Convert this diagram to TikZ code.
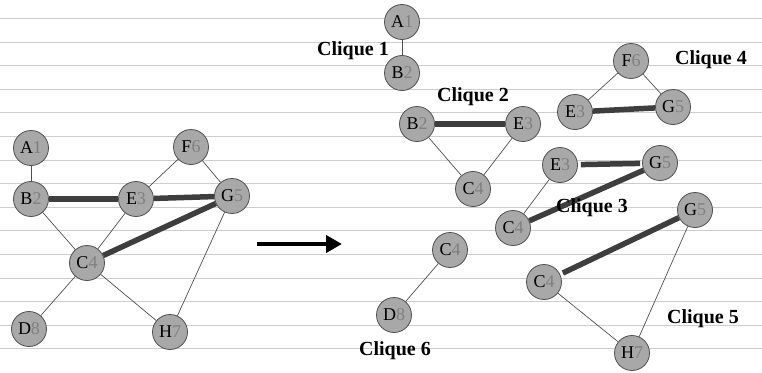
\documentclass[tikz,border=0pt]{standalone}
\usepackage{fontspec}
\setmainfont{Liberation Serif}
\usetikzlibrary{arrows.meta}
\definecolor{nodegray}{RGB}{168,168,168}
\definecolor{rimgray}{RGB}{80,80,80}
\definecolor{edgegray}{RGB}{62,62,62}
\definecolor{ruled}{RGB}{205,205,205}
\newcommand{\vx}[2]{#1{\color{gray}#2}}
\tikzset{
  vert/.style={circle,draw=rimgray,fill=nodegray,line width=0.8pt,minimum size=35pt,inner sep=0pt,font=\fontsize{18}{18}\selectfont},
  link/.style={rimgray,line width=0.7pt},
  heavy/.style={edgegray,line width=5.5pt},
  tag/.style={font=\bfseries\fontsize{20}{20}\selectfont}
}
\begin{document}
\begin{tikzpicture}[x=1pt,y=-1pt]
        \useasboundingbox(0,0)rectangle(762,372);
        \fill[white](0,0)rectangle(762,372);
        \foreach \y in {0,...,14} \draw[ruled,line width=0.8pt](0,18.4+23.6*\y)--(762,18.4+23.6*\y);

        % whole graph
        \node[vert](a)at(31,148){\vx{A}{1}};
        \node[vert](b)at(31,199){\vx{B}{2}};
        \node[vert](e)at(136,199){\vx{E}{3}};
        \node[vert](f)at(191,147){\vx{F}{6}};
        \node[vert](g)at(232,196){\vx{G}{5}};
        \node[vert](c)at(87,263){\vx{C}{4}};
        \node[vert](d)at(29,329){\vx{D}{8}};
        \node[vert](h)at(170,332){\vx{H}{7}};
        \draw[link](a)--(b);
        \draw[link](f)--(e);
        \draw[link](f)--(g);
        \draw[link](b)--(c);
        \draw[link](e)--(c);
        \draw[link](c)--(d);
        \draw[link](c)--(h);
        \draw[link](g)--(h);
        \draw[heavy](b)--(e);
        \draw[heavy](e)--(g);
        \draw[heavy](c)--(g);

        \coordinate(s)at(257,244);
        \coordinate(t)at(342,244);
        \draw[-{Triangle[length=16pt,width=17pt]},line width=4pt](s)--(t);

        % clique 1
        \node[vert](c1a)at(402,22){\vx{A}{1}};
        \node[vert](c1b)at(402,73){\vx{B}{2}};
        \draw[link](c1a)--(c1b);
        \node[tag](l1)at(353,51){Clique 1};

        % clique 2
        \node[vert](c2b)at(417,124){\vx{B}{2}};
        \node[vert](c2e)at(523,124){\vx{E}{3}};
        \node[vert](c2c)at(473,189){\vx{C}{4}};
        \draw[link](c2b)--(c2c);
        \draw[link](c2e)--(c2c);
        \draw[heavy](c2b)--(c2e);
        \node[tag](l2)at(473,97){Clique 2};

        % clique 3
        \node[vert](c3e)at(560,165){\vx{E}{3}};
        \node[vert](c3g)at(660,163){\vx{G}{5}};
        \node[vert](c3c)at(513,228){\vx{C}{4}};
        \draw[link](c3c)--(c3e);
        \draw[heavy,shorten <=3pt,shorten >=2pt](c3e)--(c3g);
        \draw[heavy](c3c)--(c3g);
        \node[tag](l3)at(592,208){Clique 3};

        % clique 4
        \node[vert](c4f)at(631,61){\vx{F}{6}};
        \node[vert](c4e)at(575,112){\vx{E}{3}};
        \node[vert](c4g)at(673,107){\vx{G}{5}};
        \draw[link](c4f)--(c4e);
        \draw[link](c4f)--(c4g);
        \draw[heavy](c4e)--(c4g);
        \node[tag](l4)at(711,60){Clique 4};

        % clique 5
        \node[vert](c5g)at(695,210){\vx{G}{5}};
        \node[vert](c5c)at(544,282){\vx{C}{4}};
        \node[vert](c5h)at(632,353){\vx{H}{7}};
        \draw[link](c5c)--(c5h);
        \draw[link](c5g)--(c5h);
        \draw[heavy,shorten <=3pt](c5c)--(c5g);
        \node[tag](l5)at(703,319){Clique 5};

        % clique 6
        \node[vert](c6c)at(450,250){\vx{C}{4}};
        \node[vert](c6d)at(394,315){\vx{D}{8}};
        \draw[link](c6c)--(c6d);
        \node[tag](l6)at(395,351){Clique 6};
\end{tikzpicture}
\end{document}
